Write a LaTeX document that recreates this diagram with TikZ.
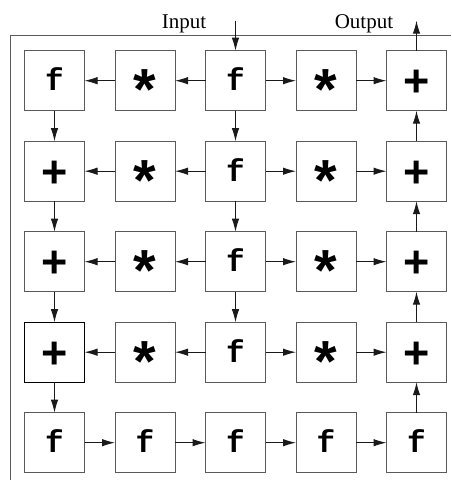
\documentclass[tikz,border=0pt]{standalone}
\usepackage{fontspec}
\setmainfont{Liberation Serif}
\setsansfont{Liberation Sans}
\setmonofont{Liberation Mono}
\usepackage{tikz}
\usetikzlibrary{arrows.meta,positioning}
\definecolor{edge}{HTML}{5A5A5A}
\definecolor{ink}{HTML}{1A1A1A}
% cell symbols, lowered so the glyph sits in the middle of the box
\newcommand{\opf}{\raisebox{-.32em}{f}}
\newcommand{\opmul}{\raisebox{-.5em}{*}}
\newcommand{\opadd}{\raisebox{-.36em}{+}}

\begin{document}
\begin{tikzpicture}[
   x=1pt,y=1pt,
   node distance=30.5pt,
   cell/.style={draw=edge,line width=1pt,minimum size=60pt,inner sep=0pt,outer sep=0pt,text height=0pt,text depth=0pt},
   fn/.style  ={cell,font=\ttfamily\bfseries\fontsize{31}{31}\selectfont},
   mul/.style ={cell,font=\sffamily\bfseries\fontsize{58}{58}\selectfont},
   add/.style ={cell,font=\sffamily\bfseries\fontsize{45}{45}\selectfont},
   lbl/.style ={anchor=base,font=\fontsize{21}{21}\selectfont},
   fl/.style  ={-{Latex[length=13pt,width=7.5pt]},draw=ink,line width=1pt}
  ]
  \useasboundingbox (0,0) rectangle (451,-480);

  % frame
  \draw[edge,line width=1pt] (451,-35) -- (10,-35) -- (10,-480);
  \node[lbl] (inlbl) at (184,-28) {Input};
  \node[lbl] (outlbl) at (364,-28) {Output};

  % row 1
  \node[fn] (a1) at (54.5,-80.7) {\opf};
  \node[mul,right=of a1] (a2) {\opmul};
  \node[fn,right=of a2] (a3) {\opf};
  \node[mul,right=of a3] (a4) {\opmul};
  \node[add,right=of a4] (a5) {\opadd};

  % row 2
  \node[add,below=of a1] (b1) {\opadd};
  \node[mul,below=of a2] (b2) {\opmul};
  \node[fn,below=of a3] (b3) {\opf};
  \node[mul,below=of a4] (b4) {\opmul};
  \node[add,below=of a5] (b5) {\opadd};

  % row 3
  \node[add,below=of b1] (c1) {\opadd};
  \node[mul,below=of b2] (c2) {\opmul};
  \node[fn,below=of b3] (c3) {\opf};
  \node[mul,below=of b4] (c4) {\opmul};
  \node[add,below=of b5] (c5) {\opadd};

  % row 4
  \node[add,draw=black,below=of c1] (d1) {\opadd};
  \node[mul,below=of c2] (d2) {\opmul};
  \node[fn,below=of c3] (d3) {\opf};
  \node[mul,below=of c4] (d4) {\opmul};
  \node[add,below=of c5] (d5) {\opadd};

  % row 5
  \node[fn,below=of d1] (e1) {\opf};
  \node[fn,below=of d2] (e2) {\opf};
  \node[fn,below=of d3] (e3) {\opf};
  \node[fn,below=of d4] (e4) {\opf};
  \node[fn,below=of d5] (e5) {\opf};

  \coordinate[above=30pt of a3.north] (in);
  \coordinate[above=30pt of a5.north] (out);

  % input / output
  \draw[fl] (in) -- (a3);
  \draw[fl] (a5) -- (out);

  % rows spreading out from the middle
  \draw[fl] (a3) -- (a2);
  \draw[fl] (a2) -- (a1);
  \draw[fl] (a3) -- (a4);
  \draw[fl] (a4) -- (a5);
  \draw[fl] (b3) -- (b2);
  \draw[fl] (b2) -- (b1);
  \draw[fl] (b3) -- (b4);
  \draw[fl] (b4) -- (b5);
  \draw[fl] (c3) -- (c2);
  \draw[fl] (c2) -- (c1);
  \draw[fl] (c3) -- (c4);
  \draw[fl] (c4) -- (c5);
  \draw[fl] (d3) -- (d2);
  \draw[fl] (d2) -- (d1);
  \draw[fl] (d3) -- (d4);
  \draw[fl] (d4) -- (d5);

  % columns
  \draw[fl] (a1) -- (b1);
  \draw[fl] (b1) -- (c1);
  \draw[fl] (c1) -- (d1);
  \draw[fl] (d1) -- (e1);
  \draw[fl] (a3) -- (b3);
  \draw[fl] (b3) -- (c3);
  \draw[fl] (c3) -- (d3);
  \draw[fl] (e5) -- (d5);
  \draw[fl] (d5) -- (c5);
  \draw[fl] (c5) -- (b5);
  \draw[fl] (b5) -- (a5);

  % bottom row
  \draw[fl] (e1) -- (e2);
  \draw[fl] (e2) -- (e3);
  \draw[fl] (e3) -- (e4);
  \draw[fl] (e4) -- (e5);
\end{tikzpicture}
\end{document}
